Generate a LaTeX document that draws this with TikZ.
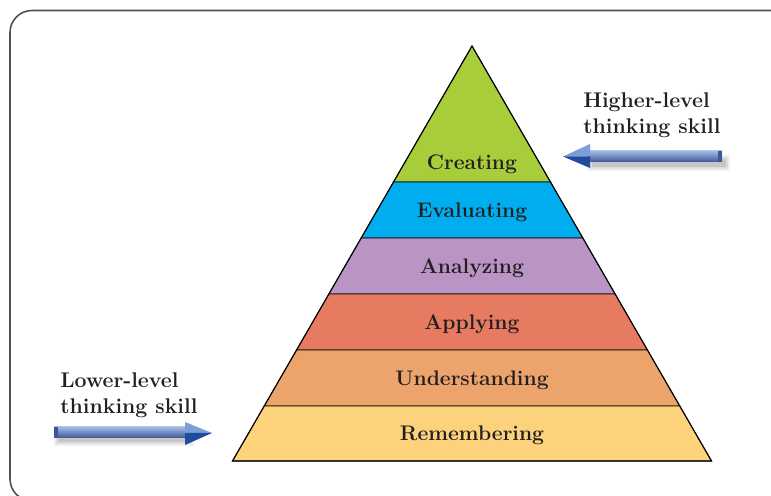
\documentclass[tikz,border=0pt]{standalone}
\usepackage{tikz}
\usetikzlibrary{calc}
\definecolor{creategreen}{HTML}{A7CD3B}
\definecolor{evalblue}{HTML}{00AEEF}
\definecolor{analyzepurple}{HTML}{B994C4}
\definecolor{applyred}{HTML}{E67B62}
\definecolor{understandorange}{HTML}{ECA46C}
\definecolor{rememberyellow}{HTML}{FDD27D}
\definecolor{textgray}{HTML}{231F20}
\definecolor{bordergray}{HTML}{505050}
\definecolor{arrowlight}{HTML}{A3B9E3}
\definecolor{arrowdark}{HTML}{3A5897}
\definecolor{headlight}{HTML}{7D9FD8}
\definecolor{headdark}{HTML}{1F4C9C}
\def\apex{(472,46)}
\def\baseleft{(232.5,461)}
\def\baseright{(711.5,461)}
\tikzset{
  level/.style={font=\fontsize{12}{14}\selectfont\bfseries, text=textgray, anchor=base},
  sidelabel/.style={font=\fontsize{12.1}{14.7}\selectfont\bfseries, text=textgray,
    align=left, anchor=north west, inner sep=0pt},
  band/.style={draw=black, line width=0.5pt}
}

\begin{document}
\begin{tikzpicture}[x=0.02cm,y=-0.02cm]
    \useasboundingbox (0,0) rectangle (771,496);
    \fill[white] (0,0) rectangle (771,496);
    \draw[bordergray,line width=0.9pt,rounded corners=0.44cm] (10,10.5) rectangle (810,501);
    % pyramid
    \filldraw[band,fill=creategreen] \apex -- (393.5,182) -- (550.5,182) -- cycle;
    \node[level] (creating) at (472,169.5) {Creating};
    \foreach \ya/\yb/\col/\lab [count=\i] in {182/238/evalblue/Evaluating,
        238/294/analyzepurple/Analyzing, 294/350/applyred/Applying,
        350/406/understandorange/Understanding, 406/461/rememberyellow/Remembering}
    {
        \filldraw[band,fill=\col] ({472-(\ya-46)*0.5771},\ya) -- ({472+(\ya-46)*0.5771},\ya)
            -- ({472+(\yb-46)*0.5771},\yb) -- ({472-(\yb-46)*0.5771},\yb) -- cycle;
        \node[level] (level\i) at (472,{(\ya+\yb)/2+7.2}) {\lab};
    }
    \draw[line width=0.6pt] \baseleft -- \apex -- \baseright -- cycle;
    % higher-level arrow
    \foreach \d/\o in {0/0.10, 2/0.08, 4/0.06}
        \fill[black,opacity=\o] ({592-\d},{159-\d}) rectangle ({726+\d},{167+\d});
    \shade[top color=arrowlight, bottom color=arrowdark] (588,151) rectangle (722,162);
    \fill[arrowdark] (718,151) rectangle (722,162);
    \fill[headlight] (563,156.5) -- (590,144) -- (590,156.5) -- cycle;
    \fill[headdark] (563,156.5) -- (590,156.5) -- (590,168) -- cycle;
    \node[sidelabel] (higher) at (583,92.8) {Higher-level\\thinking skill};
    % lower-level arrow
    \foreach \d/\o in {0/0.10, 2/0.08, 4/0.06}
        \fill[black,opacity=\o] ({58-\d},{434-\d}) rectangle ({190+\d},{442+\d});
    \shade[top color=arrowlight, bottom color=arrowdark] (54,427) rectangle (187,438);
    \fill[arrowdark] (54,427) rectangle (58,438);
    \fill[headlight] (212,433) -- (185,422) -- (185,433) -- cycle;
    \fill[headdark] (212,433) -- (185,433) -- (185,445) -- cycle;
    \node[sidelabel] (lower) at (60,372.5) {Lower-level\\thinking skill};
\end{tikzpicture}
\end{document}
